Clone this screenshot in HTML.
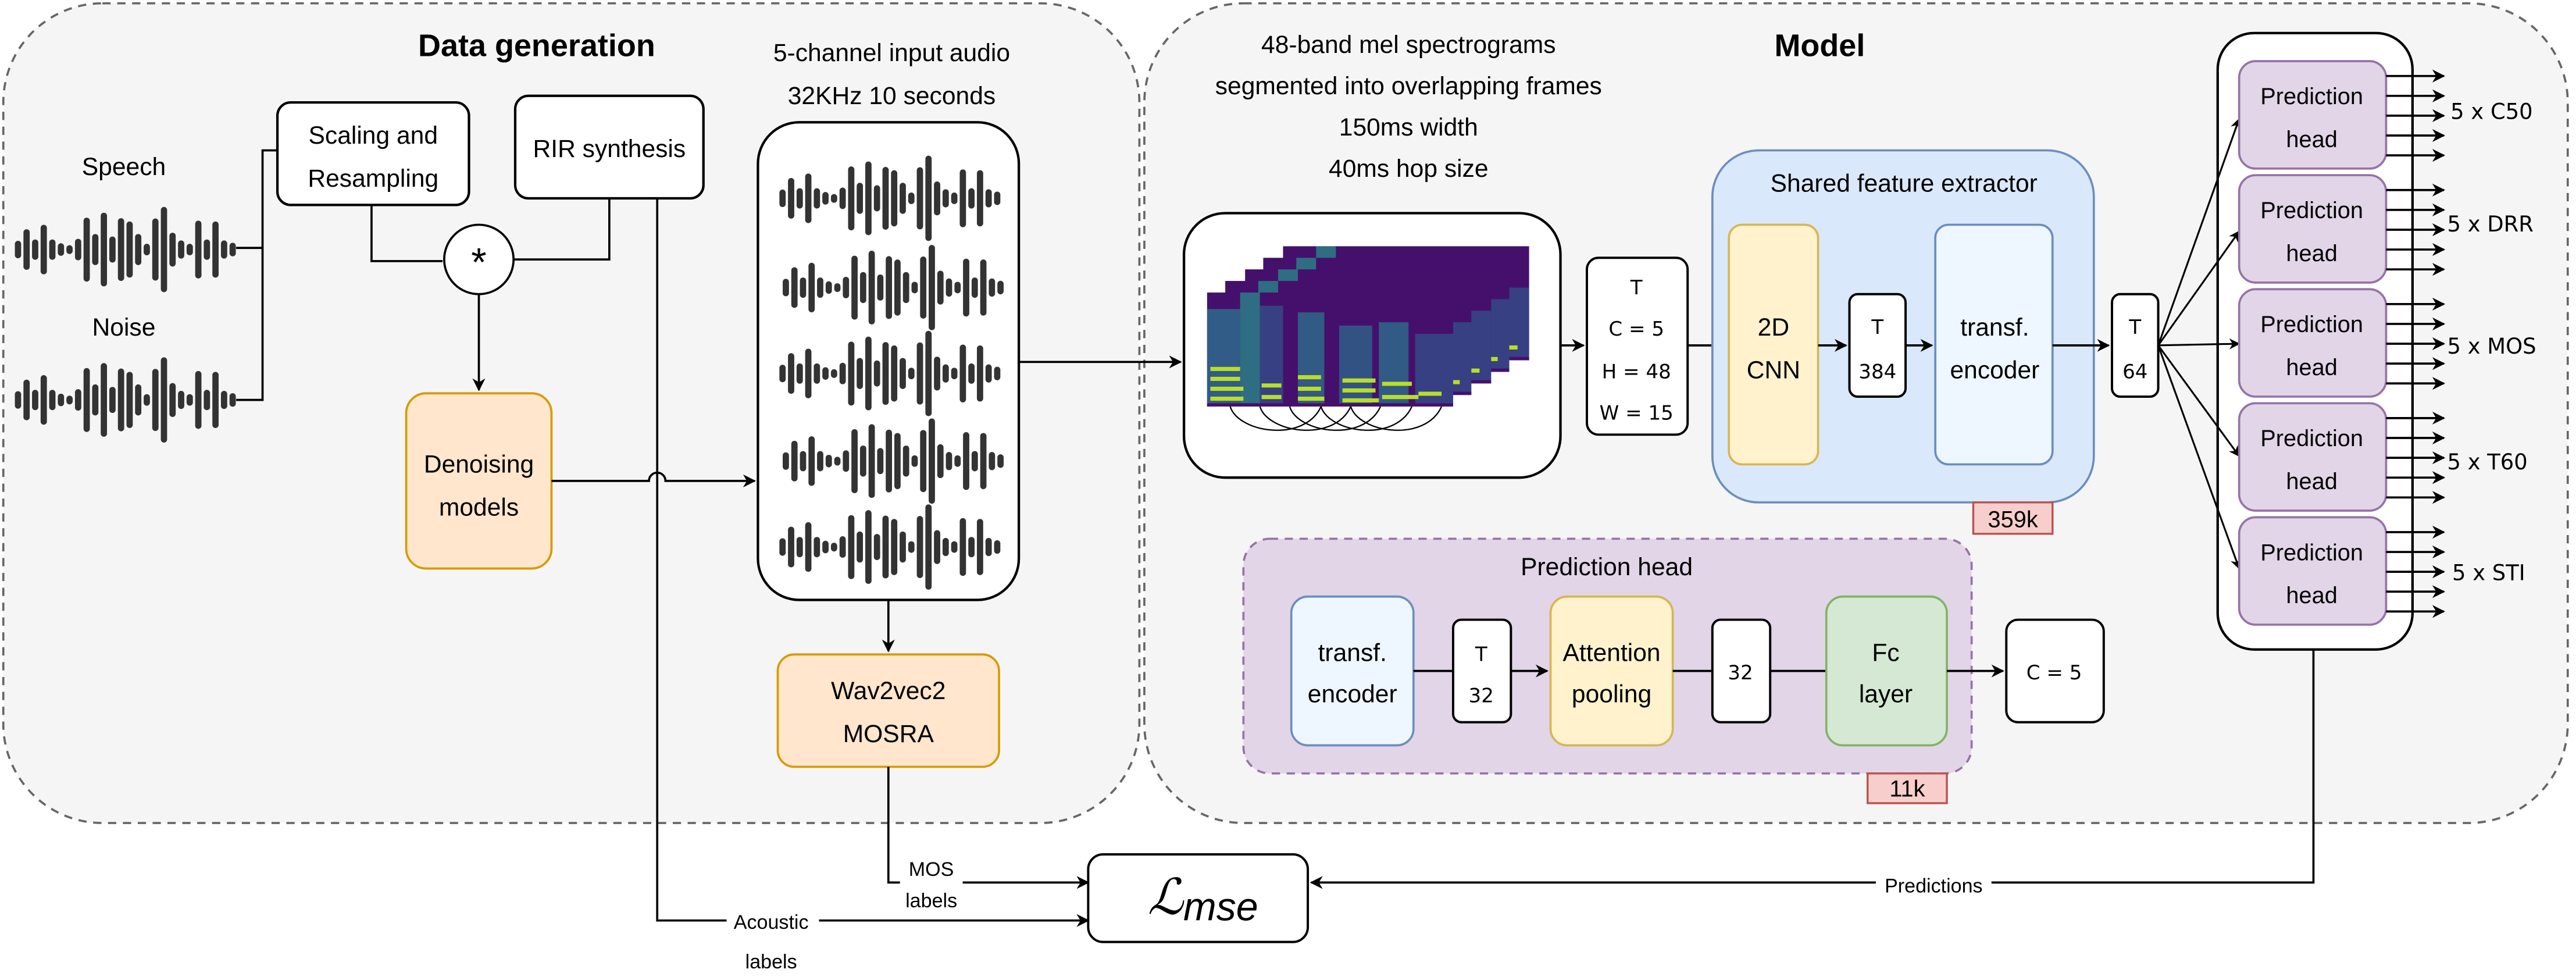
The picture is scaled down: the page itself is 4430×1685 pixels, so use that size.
<!DOCTYPE html>
<html><head><meta charset="utf-8"><style>
html,body{margin:0;padding:0;background:#fff}
svg{display:block}
text{font-family:"Liberation Sans",sans-serif;fill:#000}
.m{font-family:"DejaVu Sans","Liberation Sans",sans-serif}
</style></head><body>
<svg width="4430" height="1685" viewBox="0 0 1560 593" preserveAspectRatio="none" xmlns="http://www.w3.org/2000/svg">
<defs>
<marker id="a" viewBox="0 0 10 10" refX="9" refY="5" markerWidth="6" markerHeight="6" orient="auto-start-reverse"><path d="M0,0 L10,5 L0,10 L3,5 Z" fill="#000"/></marker>
<g id="wf" fill="#333">
<rect x="0" y="-5.3" width="3.8" height="10.6" rx="1.9"/>
<rect x="5.2" y="-12.3" width="3.8" height="24.6" rx="1.9"/>
<rect x="10.4" y="-6.1" width="3.8" height="12.3" rx="1.9"/>
<rect x="15.6" y="-15" width="3.8" height="30" rx="1.9"/>
<rect x="20.8" y="-6.1" width="3.8" height="12.3" rx="1.9"/>
<rect x="26" y="-3.8" width="3.8" height="7.6" rx="1.9"/>
<rect x="31.2" y="-2.6" width="3.8" height="5.3" rx="1.9"/>
<rect x="36.4" y="-6.5" width="3.8" height="13" rx="1.9"/>
<rect x="41.6" y="-19.3" width="3.8" height="38.7" rx="1.9"/>
<rect x="46.8" y="-9.4" width="3.8" height="18.8" rx="1.9"/>
<rect x="52" y="-22.3" width="3.8" height="44.6" rx="1.9"/>
<rect x="57.2" y="-7.9" width="3.8" height="15.8" rx="1.9"/>
<rect x="62.4" y="-19" width="3.8" height="38" rx="1.9"/>
<rect x="67.6" y="-17" width="3.8" height="34" rx="1.9"/>
<rect x="72.8" y="-9.4" width="3.8" height="18.8" rx="1.9"/>
<rect x="78" y="-3.5" width="3.8" height="7" rx="1.9"/>
<rect x="83.2" y="-18.8" width="3.8" height="37.6" rx="1.9"/>
<rect x="88.4" y="-25.8" width="3.8" height="51.6" rx="1.9"/>
<rect x="93.6" y="-10.2" width="3.8" height="20.5" rx="1.9"/>
<rect x="98.8" y="-5.5" width="3.8" height="11" rx="1.9"/>
<rect x="104" y="-3.5" width="3.8" height="7" rx="1.9"/>
<rect x="109.2" y="-17.5" width="3.8" height="35" rx="1.9"/>
<rect x="114.4" y="-6.1" width="3.8" height="12.3" rx="1.9"/>
<rect x="119.6" y="-17" width="3.8" height="34" rx="1.9"/>
<rect x="124.8" y="-5.5" width="3.8" height="11" rx="1.9"/>
<rect x="130" y="-4.1" width="3.8" height="8.2" rx="1.9"/>
</g>
<g id="spg">
<rect x="0" y="0" width="149" height="69" fill="#45106b"/>
<rect x="0" y="10" width="20" height="59" fill="#2c6f8e" opacity="0.8"/>
<rect x="20" y="0" width="12" height="69" fill="#25968b" opacity="0.7"/>
<rect x="32" y="8" width="14" height="61" fill="#31558c" opacity="0.7"/>
<rect x="55" y="12" width="16" height="57" fill="#2a7b8e" opacity="0.7"/>
<rect x="80" y="20" width="20" height="49" fill="#2c6f8e" opacity="0.7"/>
<rect x="104" y="18" width="18" height="51" fill="#2a7b8e" opacity="0.7"/>
<rect x="126" y="25" width="23" height="44" fill="#31558c" opacity="0.7"/>
<g fill="#b8de29">
<rect x="2" y="45" width="18" height="2.5"/><rect x="2" y="51" width="18" height="2.5"/><rect x="2" y="57" width="20" height="2.5"/><rect x="2" y="63" width="20" height="2.5"/>
<rect x="33" y="55" width="12" height="2.5"/><rect x="33" y="62" width="12" height="2.5"/>
<rect x="55" y="50" width="14" height="2.5"/><rect x="55" y="57" width="14" height="2.5"/><rect x="55" y="63" width="16" height="2.5"/>
<rect x="82" y="52" width="20" height="2.5"/><rect x="82" y="58" width="20" height="2.5"/><rect x="82" y="64" width="22" height="2.5"/>
<rect x="106" y="54" width="18" height="2.5"/><rect x="106" y="62" width="22" height="2.5"/><rect x="128" y="60" width="14" height="2.5"/>
</g>
<rect x="0" y="67" width="149" height="2" fill="#45106b"/>
</g>
</defs>

<!-- groups -->
<rect x="2" y="2" width="688" height="496" rx="60" fill="#f5f5f5" stroke="#666" stroke-width="1.3" stroke-dasharray="5,4"/>
<rect x="693" y="2" width="862" height="496" rx="60" fill="#f5f5f5" stroke="#666" stroke-width="1.3" stroke-dasharray="5,4"/>
<text x="325" y="34" font-size="19" font-weight="bold" text-anchor="middle">Data generation</text>
<text x="1102" y="34" font-size="19" font-weight="bold" text-anchor="middle">Model</text>

<!-- speech/noise -->
<text x="75" y="106" font-size="15" text-anchor="middle">Speech</text>
<text x="75" y="203" font-size="15" text-anchor="middle">Noise</text>
<use href="#wf" x="9" y="151"/>
<use href="#wf" x="9" y="242"/>
<path d="M143,150 H159 M143,242 H159 V91 H168" fill="none" stroke="#000" stroke-width="1.3"/>

<rect x="168" y="62" width="116" height="62" rx="8" fill="#fff" stroke="#000" stroke-width="1.5"/>
<text x="226" y="87" font-size="15" text-anchor="middle">Scaling and</text>
<text x="226" y="113" font-size="15" text-anchor="middle">Resampling</text>
<rect x="312" y="58" width="114" height="62" rx="8" fill="#fff" stroke="#000" stroke-width="1.5"/>
<text x="369" y="95" font-size="15" text-anchor="middle">RIR synthesis</text>

<path d="M225,124 V158 H268 M369,120 V157 H311" fill="none" stroke="#000" stroke-width="1.3"/>
<circle cx="290" cy="157" r="21" fill="#fff" stroke="#000" stroke-width="1.3"/>
<text x="290" y="167" font-size="24" text-anchor="middle">*</text>
<path d="M290,178 V236" stroke="#000" stroke-width="1.3" marker-end="url(#a)"/>

<rect x="246" y="238" width="88" height="106" rx="12" fill="#ffe6cc" stroke="#d79b00" stroke-width="1.3"/>
<text x="290" y="286" font-size="15" text-anchor="middle">Denoising</text>
<text x="290" y="312" font-size="15" text-anchor="middle">models</text>

<path d="M334,291 H393 A5,5 0 0 1 403,291 H457" fill="none" stroke="#000" stroke-width="1.3" marker-end="url(#a)"/>
<path d="M398,120 V557 H659" fill="none" stroke="#000" stroke-width="1.3" marker-end="url(#a)"/>
<rect x="440" y="550" width="56" height="14" fill="#fff"/>
<text x="467" y="562" font-size="12" text-anchor="middle">Acoustic</text>
<text x="467" y="586" font-size="12" text-anchor="middle">labels</text>

<!-- audio -->
<text x="540" y="37" font-size="15" text-anchor="middle">5-channel input audio</text>
<text x="540" y="63" font-size="15" text-anchor="middle">32KHz 10 seconds</text>
<rect x="459" y="74" width="158" height="289" rx="25" fill="#fff" stroke="#000" stroke-width="1.5"/>
<use href="#wf" x="472" y="120"/>
<use href="#wf" x="474" y="174"/>
<use href="#wf" x="472" y="226"/>
<use href="#wf" x="474" y="279"/>
<use href="#wf" x="472" y="331"/>
<path d="M538,363 V394" stroke="#000" stroke-width="1.3" marker-end="url(#a)"/>
<rect x="471" y="396" width="134" height="68" rx="10" fill="#ffe6cc" stroke="#d79b00" stroke-width="1.3"/>
<text x="538" y="423" font-size="15" text-anchor="middle">Wav2vec2</text>
<text x="538" y="449" font-size="15" text-anchor="middle">MOSRA</text>
<path d="M538,464 V534 H659" fill="none" stroke="#000" stroke-width="1.3" marker-end="url(#a)"/>
<rect x="545" y="518" width="38" height="30" fill="#fff"/>
<text x="564" y="530" font-size="12" text-anchor="middle">MOS</text>
<text x="564" y="549" font-size="12" text-anchor="middle">labels</text>

<path d="M617,219 H715" stroke="#000" stroke-width="1.3" marker-end="url(#a)"/>

<!-- Lmse -->
<rect x="659" y="517" width="133" height="53" rx="9" fill="#fff" stroke="#000" stroke-width="1.4"/>
<text x="695" y="553" font-size="30" font-family="DejaVu Serif,Liberation Serif,serif" font-style="italic">ℒ<tspan font-size="24" dy="4">mse</tspan></text>

<!-- spectrogram -->
<text x="853" y="32" font-size="15" text-anchor="middle">48-band mel spectrograms</text>
<text x="853" y="57" font-size="15" text-anchor="middle">segmented into overlapping frames</text>
<text x="853" y="82" font-size="15" text-anchor="middle">150ms width</text>
<text x="853" y="107" font-size="15" text-anchor="middle">40ms hop size</text>
<rect x="717" y="129" width="228" height="160" rx="25" fill="#fff" stroke="#000" stroke-width="1.5"/>
<use href="#spg" x="777" y="149"/>
<use href="#spg" x="765" y="156"/>
<use href="#spg" x="754" y="163"/>
<use href="#spg" x="742" y="170"/>
<use href="#spg" x="731" y="177"/>
<g fill="none" stroke="#000" stroke-width="0.8">
<path d="M745,246 C750,262 790,268 800,246"/><path d="M763,246 C768,262 808,268 818,246"/>
<path d="M781,246 C786,262 826,268 836,246"/><path d="M800,246 C805,262 845,268 855,246"/>
<path d="M818,246 C823,262 863,268 873,246"/>
</g>
<path d="M945,209 H959" stroke="#000" stroke-width="1.3" marker-end="url(#a)"/>
<rect x="961" y="156" width="61" height="107" rx="7" fill="#fff" stroke="#000" stroke-width="1.4"/>
<g class="m" font-size="12" text-anchor="middle">
<text x="991" y="178" class="m">T</text><text x="991" y="203" class="m">C = 5</text>
<text x="991" y="229" class="m">H = 48</text><text x="991" y="254" class="m">W = 15</text>
</g>
<path d="M1022,209 H1045" stroke="#000" stroke-width="1.3" marker-end="url(#a)"/>

<!-- shared extractor -->
<rect x="1037" y="91" width="231" height="213" rx="28" fill="#dae8fc" stroke="#6c8ebf" stroke-width="1.3"/>
<text x="1153" y="116" font-size="15" text-anchor="middle">Shared feature extractor</text>
<rect x="1047" y="136" width="54" height="145" rx="8" fill="#fff2cc" stroke="#d6b656" stroke-width="1.3"/>
<text x="1074" y="203" font-size="15" text-anchor="middle">2D</text>
<text x="1074" y="229" font-size="15" text-anchor="middle">CNN</text>
<path d="M1101,209 H1118" stroke="#000" stroke-width="1.3" marker-end="url(#a)"/>
<rect x="1120" y="178" width="34" height="62" rx="5" fill="#fff" stroke="#000" stroke-width="1.4"/>
<text x="1137" y="202" font-size="12" text-anchor="middle" class="m">T</text>
<text x="1137" y="229" font-size="12" text-anchor="middle" class="m">384</text>
<path d="M1154,209 H1170" stroke="#000" stroke-width="1.3" marker-end="url(#a)"/>
<rect x="1172" y="136" width="71" height="145" rx="8" fill="#eef6ff" stroke="#6c8ebf" stroke-width="1.3"/>
<text x="1208" y="203" font-size="15" text-anchor="middle">transf.</text>
<text x="1208" y="229" font-size="15" text-anchor="middle">encoder</text>
<rect x="1195" y="304" width="48" height="19" fill="#f8cecc" stroke="#b85450" stroke-width="1.2"/>
<text x="1219" y="319" font-size="14" text-anchor="middle">359k</text>
<path d="M1243,209 H1277" stroke="#000" stroke-width="1.3" marker-end="url(#a)"/>
<rect x="1279" y="178" width="28" height="62" rx="5" fill="#fff" stroke="#000" stroke-width="1.4"/>
<text x="1293" y="202" font-size="12" text-anchor="middle" class="m">T</text>
<text x="1293" y="229" font-size="12" text-anchor="middle" class="m">64</text>

<!-- heads -->
<rect x="1343" y="20" width="118" height="373" rx="22" fill="#fff" stroke="#000" stroke-width="1.5"/>
<g stroke="#000" stroke-width="1.1" marker-end="url(#a)">
<path d="M1307,209 L1356,72"/><path d="M1307,209 L1356,140"/><path d="M1307,209 L1356,208"/>
<path d="M1307,209 L1356,276"/><path d="M1307,209 L1356,344"/>
</g>
<g id="ph">
<rect x="1356" y="37" width="89" height="65" rx="10" fill="#e1d5e7" stroke="#9673a6" stroke-width="1.3"/>
<text x="1400" y="63" font-size="14" text-anchor="middle">Prediction</text>
<text x="1400" y="89" font-size="14" text-anchor="middle">head</text>
<g stroke="#000" stroke-width="1.3" marker-end="url(#a)">
<path d="M1445,46 H1480"/><path d="M1445,58 H1480"/><path d="M1445,70 H1480"/><path d="M1445,82 H1480"/><path d="M1445,94 H1480"/>
</g>
</g>
<use href="#ph" y="69"/><use href="#ph" y="138"/><use href="#ph" y="207"/><use href="#ph" y="276"/>
<g class="m" font-size="13">
<text x="1484" y="72" class="m">5 x C50</text>
<text x="1482" y="140" class="m">5 x  DRR</text>
<text x="1482" y="214" class="m">5 x  MOS</text>
<text x="1482" y="284" class="m">5 x  T60</text>
<text x="1485" y="351" class="m">5 x STI</text>
</g>
<path d="M1401,393 V534 H794" fill="none" stroke="#000" stroke-width="1.3" marker-end="url(#a)"/>
<rect x="1136" y="528" width="70" height="14" fill="#fff"/>
<text x="1171" y="540" font-size="12" text-anchor="middle">Predictions</text>

<!-- prediction head detail -->
<rect x="753" y="326" width="441" height="142" rx="16" fill="#e1d5e7" stroke="#9673a6" stroke-width="1.3" stroke-dasharray="5,4"/>
<text x="973" y="348" font-size="15" text-anchor="middle">Prediction head</text>
<rect x="782" y="361" width="74" height="90" rx="10" fill="#eef6ff" stroke="#6c8ebf" stroke-width="1.3"/>
<text x="819" y="400" font-size="15" text-anchor="middle">transf.</text>
<text x="819" y="425" font-size="15" text-anchor="middle">encoder</text>
<path d="M856,406 H880" stroke="#000" stroke-width="1.3"/>
<rect x="880" y="375" width="35" height="62" rx="5" fill="#fff" stroke="#000" stroke-width="1.4"/>
<text x="897" y="400" font-size="12" text-anchor="middle" class="m">T</text>
<text x="897" y="425" font-size="12" text-anchor="middle" class="m">32</text>
<path d="M915,406 H937" stroke="#000" stroke-width="1.3" marker-end="url(#a)"/>
<rect x="939" y="361" width="74" height="90" rx="10" fill="#fff2cc" stroke="#d6b656" stroke-width="1.3"/>
<text x="976" y="400" font-size="15" text-anchor="middle">Attention</text>
<text x="976" y="425" font-size="15" text-anchor="middle">pooling</text>
<path d="M1013,406 H1037" stroke="#000" stroke-width="1.3"/>
<rect x="1037" y="375" width="35" height="62" rx="5" fill="#fff" stroke="#000" stroke-width="1.4"/>
<text x="1054" y="411" font-size="12" text-anchor="middle" class="m">32</text>
<path d="M1072,406 H1106" stroke="#000" stroke-width="1.3"/>
<rect x="1106" y="361" width="73" height="90" rx="10" fill="#d5e8d4" stroke="#82b366" stroke-width="1.3"/>
<text x="1142" y="400" font-size="15" text-anchor="middle">Fc</text>
<text x="1142" y="425" font-size="15" text-anchor="middle">layer</text>
<rect x="1131" y="468" width="48" height="18" fill="#f8cecc" stroke="#b85450" stroke-width="1.2"/>
<text x="1155" y="482" font-size="14" text-anchor="middle">11k</text>
<path d="M1179,406 H1213" stroke="#000" stroke-width="1.3" marker-end="url(#a)"/>
<rect x="1215" y="375" width="59" height="62" rx="7" fill="#fff" stroke="#000" stroke-width="1.4"/>
<text x="1244" y="411" font-size="12" text-anchor="middle" class="m">C = 5</text>
</svg>
</body></html>
